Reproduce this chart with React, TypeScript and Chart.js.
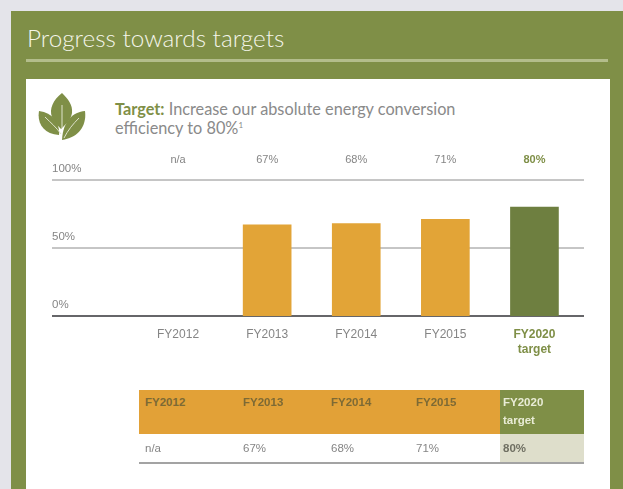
import React, { useEffect, useRef } from "react";
import { Chart, registerables } from "chart.js";

Chart.register(...registerables);

const categories: (string | string[])[] = ["FY2012", "FY2013", "FY2014", "FY2015", ["FY2020", "target"]];
const values: (number | null)[] = [null, 67, 68, 71, 80];
const valueLabels = ["n/a", "67%", "68%", "71%", "80%"];
const barColors = ["#e2a437", "#e2a437", "#e2a437", "#e2a437", "#6e7f40"];
const tableHeads = [["FY2012"], ["FY2013"], ["FY2014"], ["FY2015"], ["FY2020", "target"]];
const colLefts = [6, 104, 192, 277, 364];

const GREEN = "#7f8f47";
const TEXT = "#858585";
const SANS = "'Liberation Sans', Arial, sans-serif";

const decor = {
  id: "decor",
  beforeDatasetsDraw(chart: any) {
    const { ctx, scales } = chart;
    ctx.save();
    [100, 50, 0].forEach((v) => {
      const y = Math.round(scales.y.getPixelForValue(v));
      ctx.beginPath();
      ctx.strokeStyle = v === 0 ? "#666669" : "#8c8c8c";
      ctx.lineWidth = v === 0 ? 2 : 1;
      ctx.moveTo(52, y);
      ctx.lineTo(584, y);
      ctx.stroke();
    });
    ctx.restore();
  },
  afterDraw(chart: any) {
    const { ctx, scales } = chart;
    ctx.save();
    ctx.textAlign = "center";
    ctx.textBaseline = "middle";
    valueLabels.forEach((t, i) => {
      const last = i === valueLabels.length - 1;
      ctx.font = `${last ? "bold " : ""}11px ${SANS}`;
      ctx.fillStyle = last ? GREEN : TEXT;
      ctx.fillText(t, scales.x.getPixelForValue(i), 160);
    });
    ctx.restore();
  },
};

export default function App() {
  const ref = useRef<HTMLCanvasElement>(null);
  useEffect(() => {
    document.body.style.margin = "0";
    const chart = new Chart(ref.current!, {
      type: "bar",
      data: {
        labels: categories as any,
        datasets: [{ data: values, backgroundColor: barColors, barThickness: 48, borderWidth: 0 }],
      },
      plugins: [decor],
      options: {
        animation: false,
        responsive: false,
        layout: { padding: { left: 52, top: 180, right: 44, bottom: 113 } },
        plugins: { legend: { display: false }, tooltip: { enabled: false } },
        scales: {
          x: {
            grid: { display: false },
            border: { display: false },
            afterFit: (s: any) => { s.height = 60; },
            ticks: {
              padding: 3,
              maxRotation: 0,
              autoSkip: false,
              color: (c: any) => (c.index === 4 ? GREEN : TEXT),
              font: (c: any) => ({ family: SANS, size: 12, weight: c.index === 4 ? "bold" : "normal", lineHeight: 1.25 }),
            },
          },
          y: {
            min: 0,
            max: 100,
            grid: { display: false },
            border: { display: false },
            afterFit: (s: any) => { s.width = 81.5; },
            ticks: {
              stepSize: 50,
              crossAlign: "far",
              labelOffset: -11,
              color: TEXT,
              font: { family: SANS, size: 11.5 },
              callback: (v: any) => `${v}%`,
            },
          },
        },
      } as any,
    });
    return () => chart.destroy();
  }, []);

  const abs = (left: number, top: number, width: number, height: number, extra: any = {}) => ({
    position: "absolute" as const, left, top, width, height, ...extra,
  });

  return (
    <div style={{ ...abs(0, 0, 623, 489), overflow: "hidden", background: "#e4e4ea", filter: "blur(0.6px)" }}>
      <div style={abs(11, 11, 612, 478, { background: GREEN })} />
      <div style={abs(27, 22, 400, 32, { color: "#f4f5ea", font: `300 24.3px Lato, sans-serif`, lineHeight: "32px" })}>
        Progress towards targets
      </div>
      <div style={abs(26, 59, 582, 3, { background: "#b3bd8b" })} />
      <div style={abs(26, 79, 584, 410, { background: "#ffffff" })} />

      <svg style={abs(38, 93, 48, 47)} viewBox="0 0 48 47">
        <path fill={GREEN} d="M24 0 C15 7 11 16 14 24 C16 29 20 33 23 36 C27 32 33 27 34 20 C35 12 30 6 24 0 Z" />
        <path fill={GREEN} d="M1 18 C-1 30 5 41 21 42 C22 31 16 20 1 18 Z" />
        <path fill={GREEN} d="M47 18 C35 19 25 28 24 47 C40 45 49 33 47 18 Z" />
        <path stroke="#dfe3cc" strokeWidth="1" fill="none" d="M24 12 L24 35 M7 24 C13 30 18 34 23 41 M41 25 C35 31 30 37 26 45" />
      </svg>

      <div style={abs(115, 99, 400, 40, { color: "#8a8a8a", font: `400 16.3px/19px Lato, sans-serif` })}>
        <span style={{ color: GREEN, fontWeight: 700 }}>Target:</span> Increase our absolute energy conversion
        <br />
        efficiency to 80%<sup style={{ fontSize: 8, lineHeight: 0 }}>1</sup>
      </div>

      <canvas ref={ref} width={623} height={489} style={abs(0, 0, 623, 489)} />

      <div style={abs(139, 390, 361, 44, { background: "#e2a137" })} />
      <div style={abs(500, 390, 84, 44, { background: GREEN })} />
      <div style={abs(500, 434, 84, 28, { background: "#dedecb" })} />
      <div style={abs(139, 462, 445, 2, { background: "#a3a3a3" })} />
      {tableHeads.map((lines, i) => (
        <div
          key={i}
          style={abs(139 + colLefts[i], 393, 80, 36, {
            color: i === 4 ? "#e9ecd6" : "#7d6a35",
            font: `bold 11.5px/18px ${SANS}`,
          })}
        >
          {lines.map((l) => <div key={l}>{l}</div>)}
        </div>
      ))}
      {valueLabels.map((t, i) => (
        <div
          key={i}
          style={abs(139 + colLefts[i], 440, 60, 16, {
            color: i === 4 ? "#6f6f62" : TEXT,
            font: `${i === 4 ? "bold " : ""}11.5px/16px ${SANS}`,
          })}
        >
          {t}
        </div>
      ))}
    </div>
  );
}
